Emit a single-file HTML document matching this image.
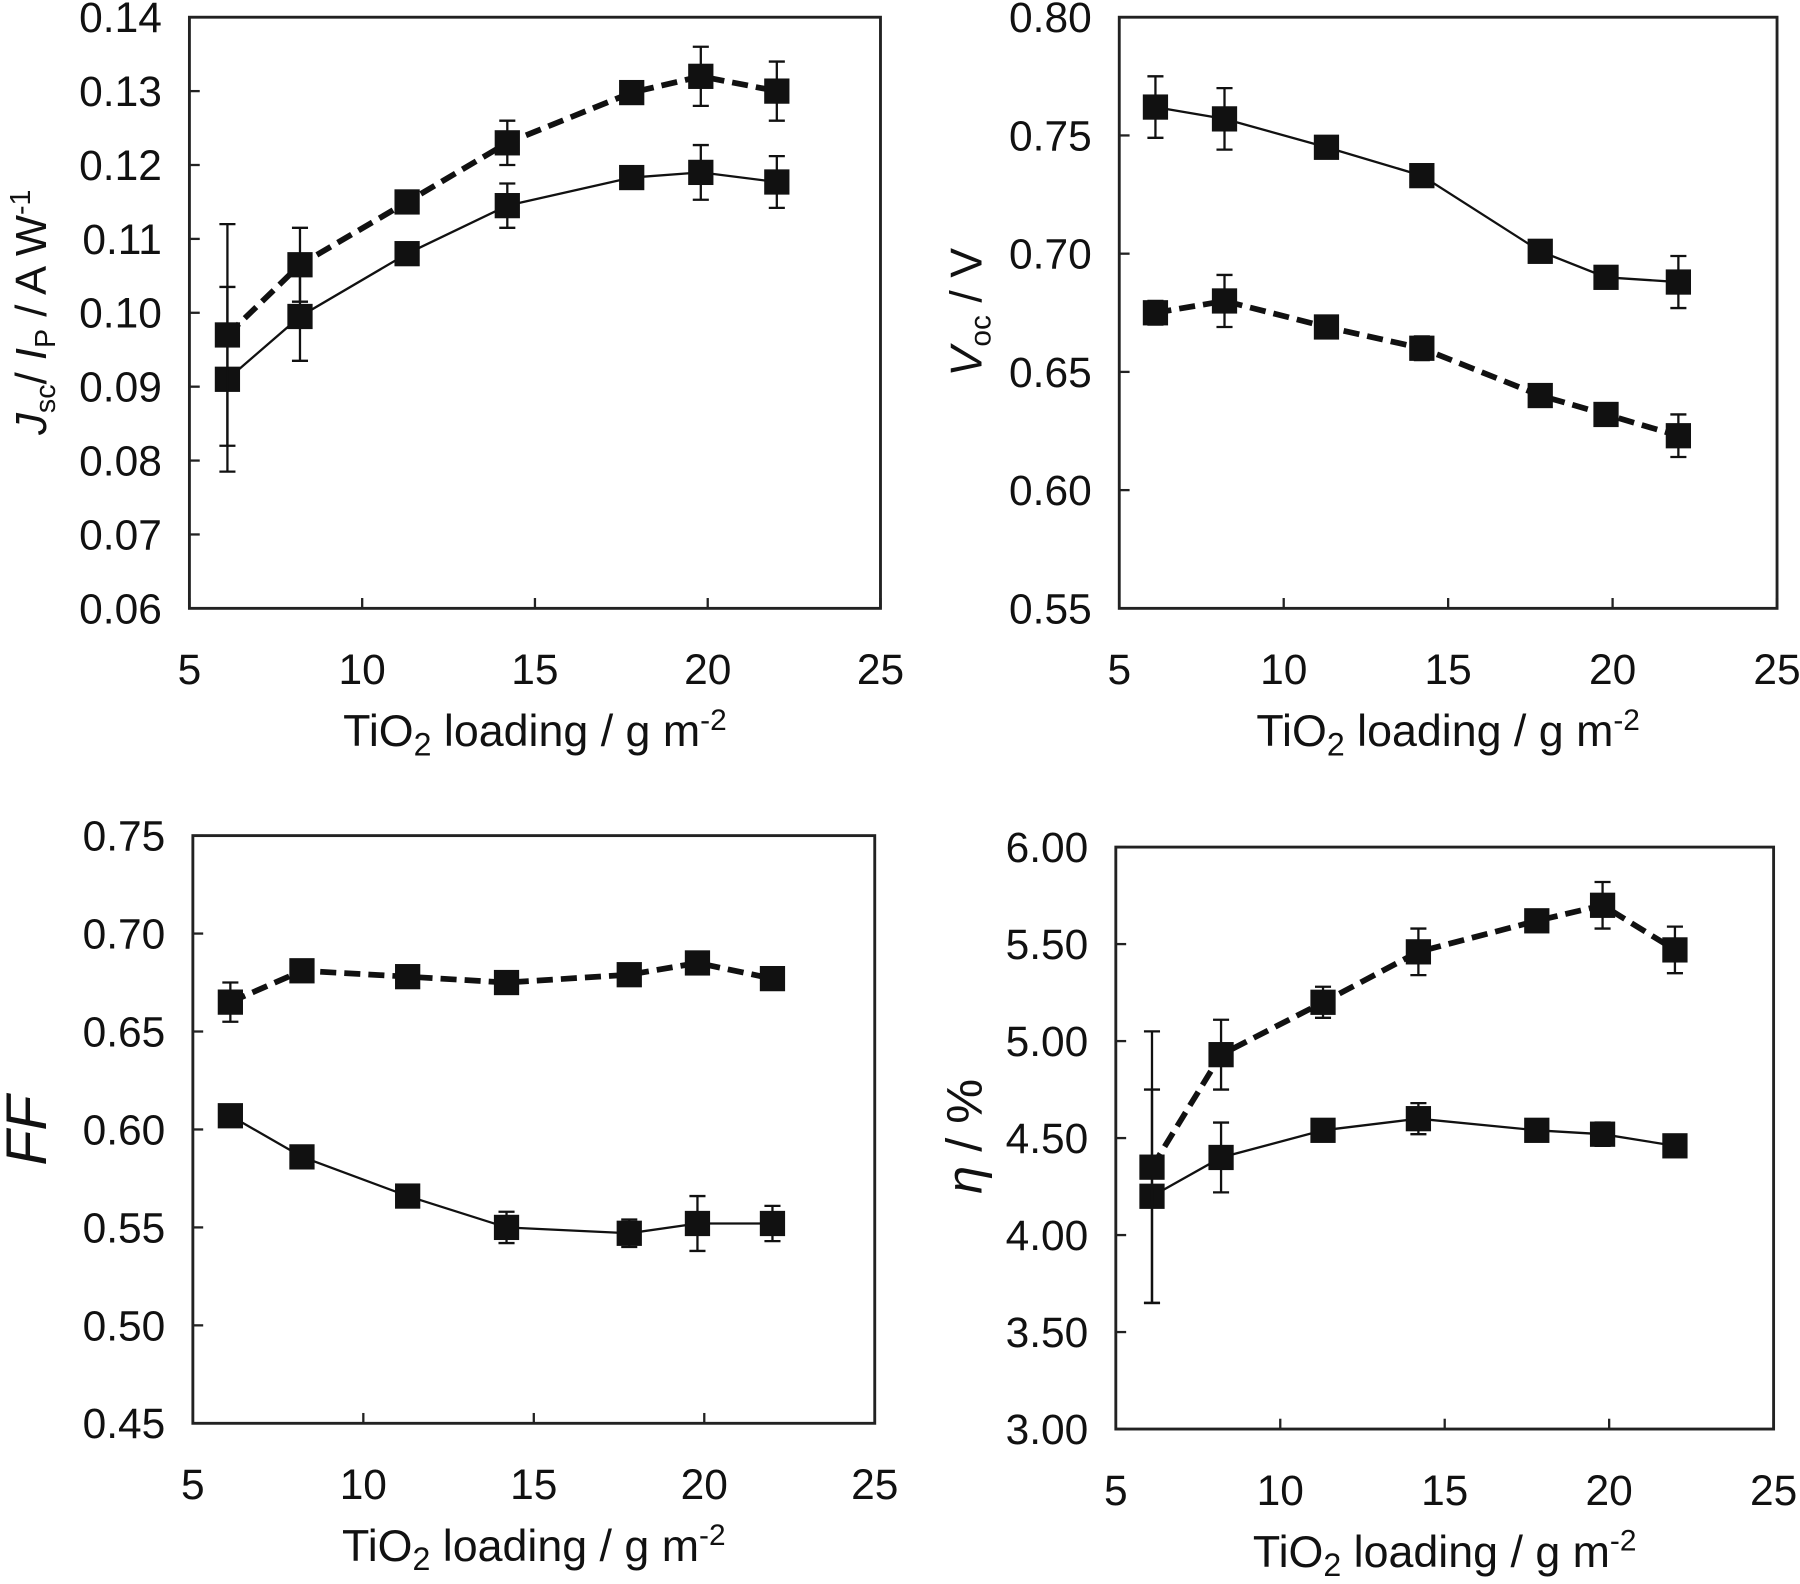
<!DOCTYPE html>
<html><head><meta charset="utf-8"><style>
html,body{margin:0;padding:0;background:#fff;}
svg{display:block;}
text{font-family:"Liberation Sans",Arial,sans-serif;fill:#111;}
</style></head><body>
<svg id="s" width="1800" height="1584" viewBox="0 0 1568 1380" preserveAspectRatio="none" xmlns="http://www.w3.org/2000/svg"></svg>
<script>
const S=document.getElementById('s');let h='';
const X=[6.1,8.2,11.3,14.2,17.8,19.8,22.0];
function panel(p){
 const {x0,x1,y0,y1,ymin,ymax,ystep,dec,dash,sol}=p;
 const fx=v=>x0+(v-5)/20*(x1-x0), fy=v=>y1-(v-ymin)/(ymax-ymin)*(y1-y0);
 h+=`<rect x="${x0}" y="${y0}" width="${x1-x0}" height="${y1-y0}" fill="none" stroke="#222" stroke-width="2.5"/>`;
 for(let v=ymin;v<=ymax+1e-9;v+=ystep){const y=fy(v);
  h+=`<line x1="${x0}" x2="${x0+9}" y1="${y}" y2="${y}" stroke="#222" stroke-width="2"/>`;
  h+=`<text x="${x0-24}" y="${y+13}" font-size="37" text-anchor="end">${v.toFixed(dec)}</text>`;}
 for(let v=5;v<=25;v+=5){const x=fx(v);
  h+=`<line x1="${x}" x2="${x}" y1="${y1}" y2="${y1-9}" stroke="#222" stroke-width="2"/>`;
  h+=`<text x="${x}" y="${y1+66}" font-size="37" text-anchor="middle">${v}</text>`;}
 h+=`<text x="${(x0+x1)/2}" y="${y1+120}" font-size="39" text-anchor="middle">TiO<tspan font-size="28" dy="8">2</tspan><tspan dy="-8"> loading / g m</tspan><tspan font-size="26" dy="-14">-2</tspan></text>`;
 [[sol,2,''],[dash,5,'14 7']].forEach(([d,w,da])=>{
  let pts=d.map((q,i)=>fx(X[i])+','+fy(q[0])).join(' ');
  h+=`<polyline points="${pts}" fill="none" stroke="#111" stroke-width="${w}" ${da?`stroke-dasharray="${da}"`:''}/>`;
  d.forEach((q,i)=>{const x=fx(X[i]),a=fy(q[0]+q[1]),b=fy(q[0]-q[1]);
   h+=`<line x1="${x}" x2="${x}" y1="${a}" y2="${b}" stroke="#111" stroke-width="2"/><line x1="${x-7}" x2="${x+7}" y1="${a}" y2="${a}" stroke="#111" stroke-width="2"/><line x1="${x-7}" x2="${x+7}" y1="${b}" y2="${b}" stroke="#111" stroke-width="2"/>`;
   h+=`<rect x="${x-11}" y="${fy(q[0])-11}" width="22" height="22" fill="#111"/>`;});
 });
}
panel({x0:165,x1:767,y0:15,y1:530,ymin:0.06,ymax:0.14,ystep:0.01,dec:2,
 dash:[[0.097,0.015],[0.1065,0.005],[0.115,0.001],[0.123,0.003],[0.1298,0.0015],[0.132,0.004],[0.130,0.004]],
 sol:[[0.091,0.0125],[0.0995,0.006],[0.108,0.001],[0.1145,0.003],[0.1183,0.001],[0.119,0.0037],[0.1177,0.0035]]});
panel({x0:975,x1:1548,y0:15,y1:530,ymin:0.55,ymax:0.80,ystep:0.05,dec:2,
 sol:[[0.762,0.013],[0.757,0.013],[0.745,0.002],[0.733,0.004],[0.701,0.003],[0.690,0.002],[0.688,0.011]],
 dash:[[0.675,0.005],[0.680,0.011],[0.669,0.002],[0.660,0.005],[0.640,0.004],[0.632,0.003],[0.623,0.009]]});
panel({x0:168,x1:762,y0:728,y1:1240,ymin:0.45,ymax:0.75,ystep:0.05,dec:2,
 dash:[[0.665,0.01],[0.681,0.002],[0.678,0.002],[0.675,0.002],[0.679,0.002],[0.685,0.002],[0.677,0.002]],
 sol:[[0.607,0.002],[0.586,0.002],[0.566,0.003],[0.550,0.008],[0.547,0.007],[0.552,0.014],[0.552,0.009]]});
panel({x0:972,x1:1545,y0:738,y1:1245,ymin:3.0,ymax:6.0,ystep:0.5,dec:2,
 dash:[[4.35,0.7],[4.93,0.18],[5.20,0.08],[5.46,0.12],[5.62,0.02],[5.70,0.12],[5.47,0.12]],
 sol:[[4.20,0.55],[4.40,0.18],[4.54,0.03],[4.60,0.08],[4.54,0.03],[4.52,0.06],[4.46,0.02]]});
h+=`<text transform="translate(40,272) rotate(-90)" font-size="38" text-anchor="middle"><tspan font-style="italic">J</tspan><tspan font-size="25" dy="8">sc</tspan><tspan dy="-8">/ </tspan><tspan font-style="italic">I</tspan><tspan font-size="25" dy="8">P</tspan><tspan dy="-8">  / A W</tspan><tspan font-size="25" dy="-14">-1</tspan></text>`;
h+=`<text transform="translate(855,272) rotate(-90)" font-size="39" text-anchor="middle"><tspan font-style="italic">V</tspan><tspan font-size="26" dy="8">oc</tspan><tspan dy="-8"> / V</tspan></text>`;
h+=`<text transform="translate(40,985) rotate(-90)" font-size="50" font-style="italic" text-anchor="middle">FF</text>`;
h+=`<text transform="translate(855,990) rotate(-90)" font-size="44" text-anchor="middle"><tspan font-style="italic">η</tspan>  / %</text>`;
S.innerHTML=h;
</script>
</body></html>
